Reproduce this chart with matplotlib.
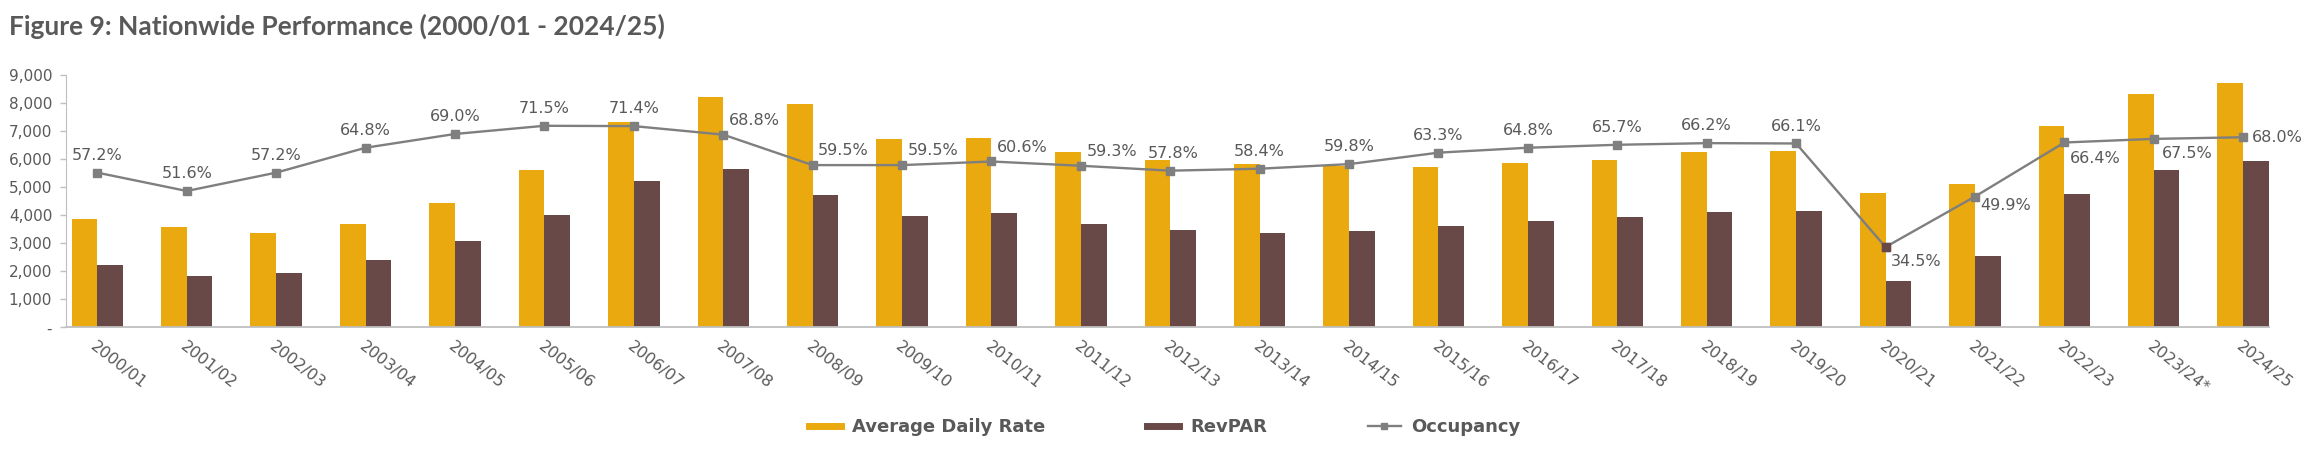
import matplotlib
matplotlib.use("Agg")
import matplotlib.pyplot as plt
from matplotlib.lines import Line2D
import numpy as np

# данные
years = ['2000/01', '2001/02', '2002/03', '2003/04', '2004/05', '2005/06', '2006/07',
         '2007/08', '2008/09', '2009/10', '2010/11', '2011/12', '2012/13', '2013/14',
         '2014/15', '2015/16', '2016/17', '2017/18', '2018/19', '2019/20', '2020/21',
         '2021/22', '2022/23', '2023/24*', '2024/25']
adr = [3860, 3570, 3370, 3690, 4450, 5620, 7310, 8230, 7980, 6700, 6750, 6240, 5970,
       5810, 5770, 5720, 5860, 5960, 6250, 6300, 4790, 5110, 7170, 8330, 8710]
revpar = [2215, 1840, 1920, 2390, 3070, 4010, 5220, 5660, 4730, 3970, 4070, 3690, 3460,
          3370, 3430, 3610, 3800, 3930, 4130, 4160, 1640, 2560, 4760, 5600, 5920]
occ = [57.2, 51.6, 57.2, 64.8, 69.0, 71.5, 71.4, 68.8, 59.5, 59.5, 60.6, 59.3, 57.8,
       58.4, 59.8, 63.3, 64.8, 65.7, 66.2, 66.1, 34.5, 49.9, 66.4, 67.5, 68.0]

GOLD = '#E9A90F'
BROWN = '#684947'
GREY = '#7F7F7F'
TXT = '#595959'

fig = plt.figure(figsize=(23.18, 4.49), dpi=100)
ax = fig.add_axes([0.0285, 0.271, 0.9504, 0.562])

x = np.arange(len(years))
w = 0.2875
ax.bar(x - w / 2, adr, width=w, color=GOLD, label='Average Daily Rate')
ax.bar(x + w / 2, revpar, width=w, color=BROWN, label='RevPAR')

ax.set_xlim(-0.35, len(years) - 1 + 0.29)
ax.set_ylim(0, 9000)
ax.set_yticks(range(0, 9001, 1000))
ax.set_yticklabels(['-'] + ['{:,}'.format(v) for v in range(1000, 9001, 1000)])
ax.tick_params(axis='y', colors=TXT, labelsize=11, length=4, width=1, pad=6)
ax.tick_params(axis='y', color='#BFBFBF')
ax.set_xticks(x)
ax.set_xticklabels(years, rotation=-38, ha='left', va='top', rotation_mode='anchor',
                   fontsize=11.5, color=TXT)
ax.tick_params(axis='x', length=0, pad=8)
for s in ['top', 'right']:
    ax.spines[s].set_visible(False)
ax.spines['left'].set_color('#BFBFBF')
ax.spines['bottom'].set_color('#BFBFBF')
ax.spines['bottom'].set_linewidth(1.3)

# загрузка на второй оси
ax2 = ax.twinx()
ax2.set_ylim(10, 87)
ax2.set_xlim(ax.get_xlim())
ax2.axis('off')
ax2.plot(x, occ, color=GREY, lw=1.7, marker='s', ms=6.3, mfc=GREY, mec=GREY, zorder=3)
ax2.plot(x[20], occ[20], marker='s', ms=6.3, color=BROWN, zorder=4)

# положение подписей: (dx, dy, ha, va)
pos = {}
for i in range(len(years)):
    pos[i] = (0, 7, 'center', 'bottom')
for i in [7, 8, 9, 10, 11]:
    pos[i] = (4, 5, 'left', 'bottom')
pos[12] = (2, 7, 'center', 'bottom')
pos[20] = (4, -5, 'left', 'top')
pos[21] = (4, -1, 'left', 'top')
pos[22] = (4, -6, 'left', 'top')
pos[23] = (6, -5, 'left', 'top')
pos[24] = (6, 0, 'left', 'center')
for i, v in enumerate(occ):
    dx, dy, ha, va = pos[i]
    ax2.annotate('{:.1f}%'.format(v), (x[i], v), xytext=(dx, dy), textcoords='offset points',
                 ha=ha, va=va, fontsize=11.5, color=TXT)

fig.text(0.004, 0.922, 'Figure 9: Nationwide Performance (2000/01 - 2024/25)',
         fontsize=19, fontweight='bold', family='Lato', color=TXT, va='baseline', ha='left')

handles = [Line2D([], [], color=GOLD, lw=5),
           Line2D([], [], color=BROWN, lw=5),
           Line2D([], [], color=GREY, lw=1.7, marker='s', ms=5)]
leg = fig.legend(handles, ['Average Daily Rate', 'RevPAR', 'Occupancy'], ncol=3,
                 loc='center', bbox_to_anchor=(0.5025, 0.049), frameon=False,
                 prop={'size': 13, 'weight': 'bold'}, handlelength=1.8, handletextpad=0.6,
                 columnspacing=5.6)
for t in leg.get_texts():
    t.set_color(TXT)

fig.savefig('out.png', dpi=100)
